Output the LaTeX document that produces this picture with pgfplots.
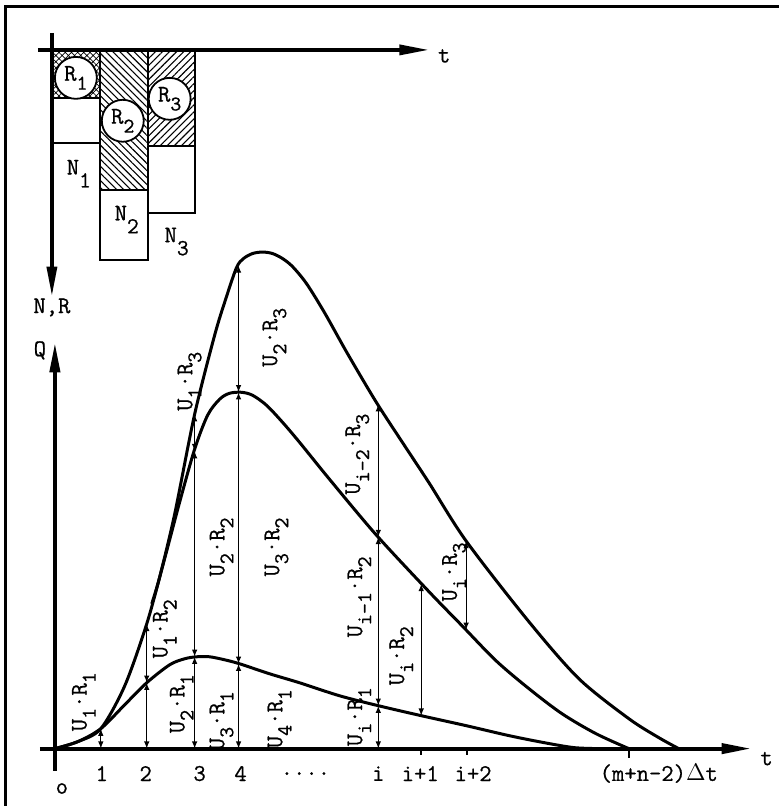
\documentclass[border=0pt]{standalone}
\usepackage{fontspec}
\usepackage{pgfplots}
\pgfplotsset{compat=1.18}
\usetikzlibrary{arrows.meta,patterns,patterns.meta}
\newfontfamily\tyfont[FakeBold=0.7]{Latin Modern Mono}
\newcommand\lab{\tyfont\fontsize{12}{14}\selectfont}
\newcommand\sub[1]{\raisebox{-4.5pt}{\fontsize{10.5}{12}\selectfont #1}}
\newcommand\nsub[1]{\raisebox{-6.5pt}{\fontsize{11.5}{12}\selectfont #1}}
\tikzset{
  lbl/.style={font=\lab, inner sep=0pt, text=black},
  rl/.style={lbl, rotate=90},
  tarrow/.style={line width=0.6pt, {Latex[length=3.6pt,width=2.8pt]}-{Latex[length=3.6pt,width=2.8pt]}},
  bigax/.style={line width=1.8pt, -{Triangle[length=15pt,width=5pt]}},
  crv/.style={line width=1.5pt, smooth, tension=0.5},
  bar/.style={draw=black, line width=1pt},
}
\begin{document}
\begin{tikzpicture}
\begin{axis}[
  width=390pt, height=403.5pt, scale only axis,
  xmin=0, xmax=780, ymin=0, ymax=807, y dir=reverse,
  axis lines=none, clip=false, no markers,
]
\path (rel axis cs:0,0) rectangle (rel axis cs:1,1);
% frame
\addplot[line width=1.5pt] coordinates {(6,807) (6,7) (780,7)};

% ---------------- top panel: rainfall bars
\addplot[bar, pattern={Hatch[angle=45,distance=2.2pt,line width=0.35pt]}] coordinates {(52,50) (100,50) (100,98) (52,98) (52,50)};
\addplot[bar, fill=white] coordinates {(52,98) (100,98) (100,143) (52,143) (52,98)};
\addplot[bar, pattern={Lines[angle=-45,distance=2.5pt,line width=0.55pt]}] coordinates {(100,50) (148,50) (148,190) (100,190) (100,50)};
\addplot[bar, fill=white] coordinates {(100,190) (148,190) (148,260) (100,260) (100,190)};
\addplot[bar, pattern={Lines[angle=45,distance=2.5pt,line width=0.55pt]}] coordinates {(148,50) (195,50) (195,146) (148,146) (148,50)};
\addplot[bar, fill=white] coordinates {(148,146) (195,146) (195,213) (148,213) (148,146)};

\node[circle, draw, line width=0.9pt, fill=white, minimum size=21pt, inner sep=0pt, font=\lab] at (76,78) {R\sub{1}};
\node[circle, draw, line width=0.9pt, fill=white, minimum size=21pt, inner sep=0pt, font=\lab] at (123,121) {R\sub{2}};
\node[circle, draw, line width=0.9pt, fill=white, minimum size=21pt, inner sep=0pt, font=\lab] at (170,99) {R\sub{3}};

\addplot[bigax] coordinates {(38,50) (430,50)};
\addplot[bigax] coordinates {(52,33) (52,297)};

\node[lbl] at (79,174) {N\nsub{1}};
\node[lbl] at (127,220) {N\nsub{2}};
\node[lbl] at (177,242) {N\nsub{3}};
\node[lbl] at (52,308) {N,R};
\node[lbl] at (445,56) {t};

% ---------------- bottom panel: hydrographs
\addplot[line width=2pt, -{Triangle[length=15pt,width=5pt]}] coordinates {(40,750) (753,750)};
\addplot[line width=2pt, -{Triangle[length=15pt,width=5pt]}] coordinates {(55,772) (55,343)};
\addplot[line width=1pt] coordinates {(630,750) (630,759)};
\addplot[line width=0.8pt] coordinates {(422,750) (422,756)};
\addplot[line width=0.8pt] coordinates {(468,750) (468,756)};

% curve 1 : U.R1
\addplot[crv] coordinates {(55,750) (78,743) (101,730) (125,706) (147,684) (170,666) (185,660) (197,658) (210,658) (225,661) (240,665) (270,675) (300,684) (340,697) (379,707) (422,717) (467,727) (510,737) (545,744) (575,749) (600,750)};
% curve 2 : U.R1 + U.R2
\addplot[crv] coordinates {(55,750) (78,743) (101,730) (125,687) (147,625) (163,567) (180,503) (195,450) (208,416) (220,400) (230,394) (242,393) (253,396) (267,406) (283,423) (300,443) (330,480) (377,536) (430,593) (463,627) (497,662) (530,690) (563,715) (597,735) (630,750)};
% curve 3 : U.R1 + U.R2 + U.R3
\addplot[crv] coordinates {(152,605) (160,578) (175,515) (195,415) (215,336) (226,300) (237,268) (244,259) (253,254) (263,252.5) (273,254) (283,259) (293,267) (307,284) (325,313) (348,354) (377,403) (405,446) (430,484) (467,542) (530,623) (580,680) (630,720) (660,739) (680,750)};

% ordinates
\addplot[tarrow] coordinates {(101,750) (101,730)};
\addplot[tarrow] coordinates {(147,750) (147,684)};
\addplot[tarrow] coordinates {(147,684) (147,625)};
\addplot[tarrow] coordinates {(195,750) (195,658)};
\addplot[tarrow] coordinates {(195,658) (195,452)};
\addplot[tarrow] coordinates {(195,452) (195,415)};
\addplot[tarrow] coordinates {(239,750) (239,665)};
\addplot[tarrow] coordinates {(239,665) (239,393)};
\addplot[tarrow] coordinates {(239,393) (239,266)};
\addplot[tarrow] coordinates {(379,750) (379,707)};
\addplot[tarrow] coordinates {(379,707) (379,538)};
\addplot[tarrow] coordinates {(379,538) (379,405)};
\addplot[tarrow] coordinates {(422,717) (422,585)};
\addplot[tarrow] coordinates {(467,631) (467,542)};

% labels on ordinates
\node[rl] at (84,703) {U\sub{1}·R\sub{1}};
\node[rl] at (165,630) {U\sub{1}·R\sub{2}};
\node[rl] at (182,705) {U\sub{2}·R\sub{1}};
\node[rl] at (222,722) {U\sub{3}·R\sub{1}};
\node[rl] at (280,720) {U\sub{4}·R\sub{1}};
\node[rl] at (222,548) {U\sub{2}·R\sub{2}};
\node[rl] at (277,548) {U\sub{3}·R\sub{2}};
\node[rl] at (190,382) {U\sub{1}·R\sub{3}};
\node[rl] at (275,338) {U\sub{2}·R\sub{3}};
\node[rl] at (358,455) {U\sub{i-2}·R\sub{3}};
\node[rl] at (360,598) {U\sub{i-1}·R\sub{2}};
\node[rl] at (360,718) {U\sub{i}·R\sub{1}};
\node[rl] at (402,657) {U\sub{i}·R\sub{2}};
\node[rl] at (455,573) {U\sub{i}·R\sub{3}};

% axis labels
\node[lbl] at (40,351) {Q};
\node[lbl] at (768,760) {t};
\node[lbl] at (62,790) {o};
\node[lbl] at (102,775) {1};
\node[lbl] at (146,775) {2};
\node[lbl] at (200,775) {3};
\node[lbl] at (241,775) {4};
\node[lbl] at (306,775) {....};
\node[lbl] at (379,775) {i};
\node[lbl] at (421,775) {i+1};
\node[lbl] at (474,775) {i+2};
\node[lbl] at (660,775) {(m+n-2)$\Delta$t};
\end{axis}
\end{tikzpicture}
\end{document}
